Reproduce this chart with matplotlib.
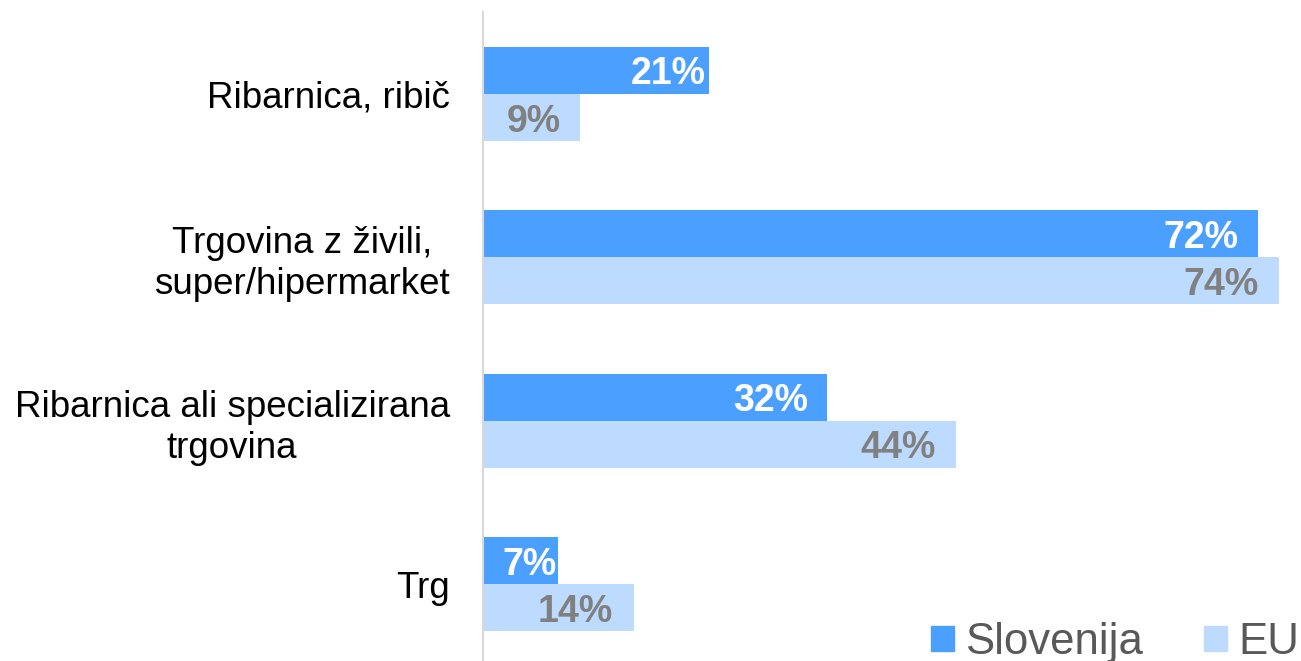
import matplotlib
matplotlib.use("Agg")
import matplotlib.pyplot as plt
from matplotlib.patches import Patch
import numpy as np

categories = ["Ribarnica, ribič",
              "Trgovina z živili,\nsuper/hipermarket",
              "Ribarnica ali specializirana\ntrgovina",
              "Trg"]
slovenija = [21, 72, 32, 7]
eu = [9, 74, 44, 14]
series_names = ["Slovenija", "EU"]

col_si = "#4A9FFF"
col_eu = "#BDDAFF"
font = "Liberation Sans"

fig = plt.figure(figsize=(13.01, 6.61), dpi=100)
W, H = 1301, 661
ax = fig.add_axes([483 / W, 0, (W - 483) / W, (661 - 12) / H])

y = np.arange(len(categories))
bh = 0.288
b1 = ax.barh(y - bh / 2, slovenija, height=bh, color=col_si, label=series_names[0])
b2 = ax.barh(y + bh / 2, eu, height=bh, color=col_eu, label=series_names[1])

ax.set_xlim(0, (W - 483) / 10.76)
ax.set_ylim(3.471, -0.502)

ax.set_yticks(y)
ax.set_yticklabels(categories, fontsize=26.5, family=font, color="black")
for lbl in ax.get_yticklabels():
    lbl.set_multialignment("center")
    lbl.set_linespacing(1.22)
ax.tick_params(axis="y", length=0, pad=24)
ax.set_xticks([])

for s in ["top", "right", "bottom"]:
    ax.spines[s].set_visible(False)
ax.spines["left"].set_color("#D9D9D9")
ax.spines["left"].set_linewidth(1.5)

pads_si = [-2, -14, -14, -1]
pads_eu = [-14, -15, -15, -15]
for rect, v, p in zip(b1, slovenija, pads_si):
    ax.annotate(f"{v}%", xy=(rect.get_width(), rect.get_y() + rect.get_height() / 2),
                xytext=(p, 0), textcoords="offset points", ha="right", va="center_baseline",
                fontsize=27, fontweight="bold", family=font, color="white")
for rect, v, p in zip(b2, eu, pads_eu):
    ax.annotate(f"{v}%", xy=(rect.get_width(), rect.get_y() + rect.get_height() / 2),
                xytext=(p, 0), textcoords="offset points", ha="right", va="center_baseline",
                fontsize=27, fontweight="bold", family=font, color="#808080")

handles = [Patch(color=col_si), Patch(color=col_eu)]
leg = fig.legend(handles, series_names, loc="lower right", bbox_to_anchor=(1299 / W, -2 / H),
                 ncol=2, frameon=False, borderpad=0, borderaxespad=0,
                 handlelength=0.52, handleheight=0.52,
                 handletextpad=0.26, columnspacing=1.4,
                 prop={"family": font, "size": 31.5})
for t in leg.get_texts():
    t.set_color("#595959")

fig.savefig("out.png", dpi=100)
